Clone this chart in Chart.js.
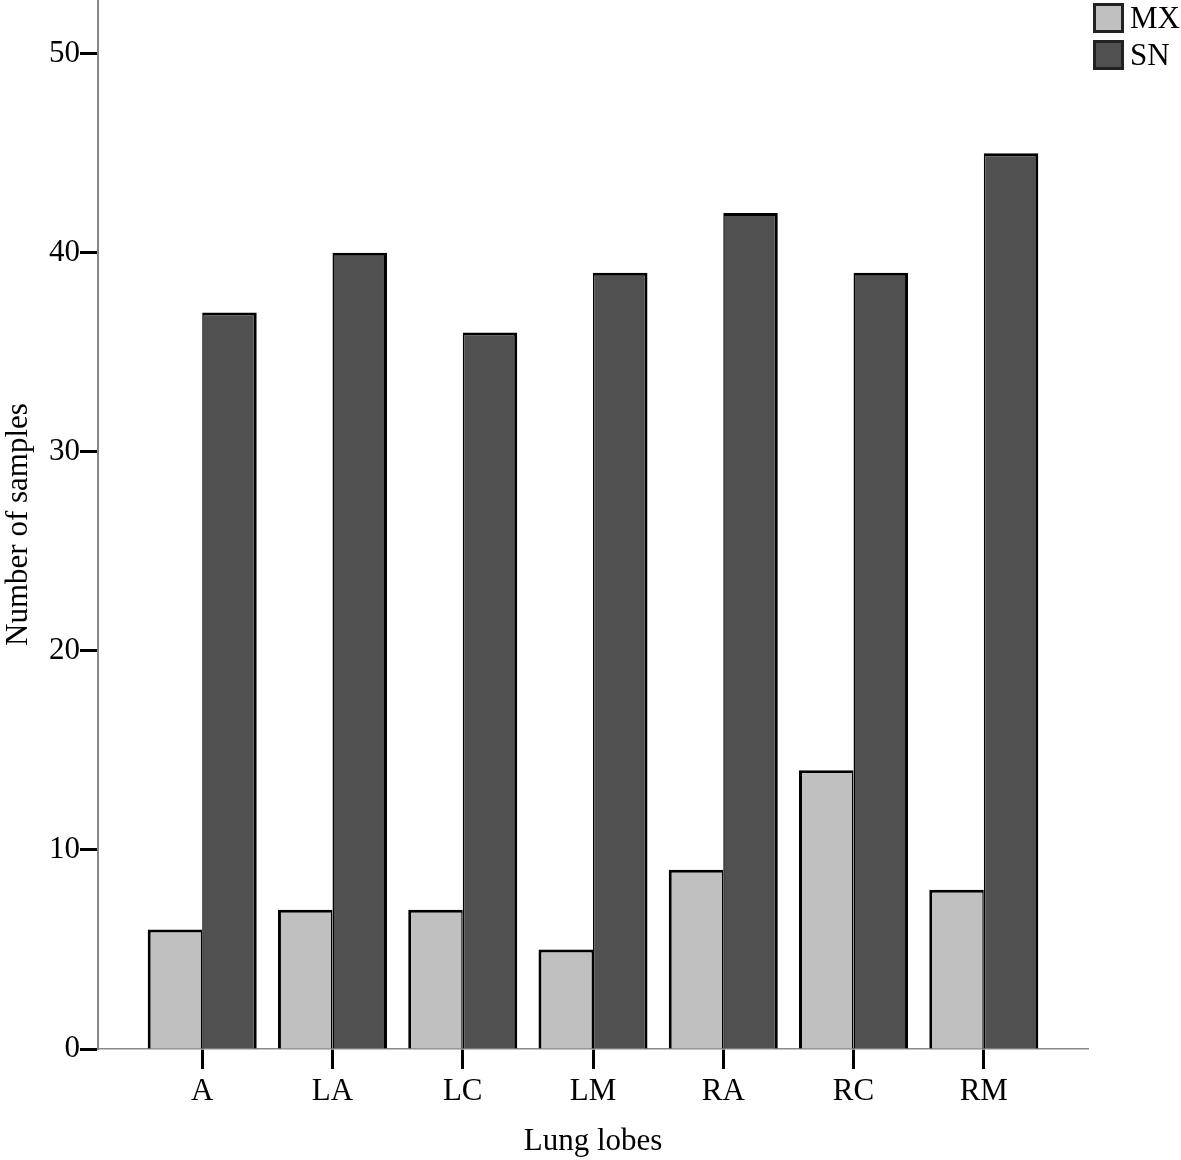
<!DOCTYPE html>
<html>
<head>
<meta charset="utf-8">
<script src="https://cdn.jsdelivr.net/npm/chart.js@4/dist/chart.umd.min.js"></script>
<style>
  html, body { margin: 0; padding: 0; background: #fff; }
  #wrap { position: relative; width: 1181px; height: 1160px; }
  #legend { position: absolute; left: 1093px; top: 3px; font-family: "Liberation Serif", "Times New Roman", serif; font-size: 31px; color: #000; }
  .item { display: flex; align-items: center; height: 30px; margin-bottom: 7px; line-height: 30px; }
  .box { width: 31px; height: 30px; box-sizing: border-box; border: 3px solid #222; margin-right: 6px; flex: none; }
</style>
</head>
<body>
<div id="wrap">
  <canvas id="c" width="1181" height="1160"></canvas>
  <div id="legend"></div>
</div>
<script>
const categories = ["A", "LA", "LC", "LM", "RA", "RC", "RM"];
const seriesNames = ["MX", "SN"];
const mxValues = [6, 7, 7, 5, 9, 14, 8];
const snValues = [37, 40, 36, 39, 42, 39, 45];
const yTicks = [0, 10, 20, 30, 40, 50];
const seriesColors = ["#c0c0c0", "#505050"];

const FONT = "'Liberation Serif', 'Times New Roman', serif";

const borderSets = [
  { top: 3, left: 3, right: 1.5, bottom: 0 },
  { top: 3, left: 1.5, right: 3, bottom: 0 }
];

const datasets = [mxValues, snValues].map((vals, k) => ({
  label: seriesNames[k],
  data: vals.map((v, i) => ({ x: i, y: v })),
  backgroundColor: seriesColors[k],
  borderColor: "#000",
  borderWidth: borderSets[k],
  borderSkipped: false,
  categoryPercentage: 0.837,
  barPercentage: 1.0
}));

const legend = document.getElementById("legend");
seriesNames.forEach((n, k) => {
  const it = document.createElement("div");
  it.className = "item";
  const b = document.createElement("div");
  b.className = "box";
  b.style.background = seriesColors[k];
  const t = document.createElement("span");
  t.textContent = n;
  it.appendChild(b); it.appendChild(t);
  legend.appendChild(it);
});

new Chart(document.getElementById("c"), {
  type: "bar",
  data: { datasets },
  options: {
    responsive: false,
    animation: false,
    events: [],
    layout: { padding: { left: 0, right: 93, top: 0, bottom: 0 } },
    plugins: { legend: { display: false }, tooltip: { enabled: false } },
    scales: {
      x: {
        type: "linear",
        min: -0.8,
        max: 6.8,
        offset: false,
        afterBuildTicks: (s) => { s.ticks = categories.map((_, i) => ({ value: i })); },
        afterFit: (s) => { s.height = 111; s.paddingLeft = 0; s.paddingRight = 0; },
        ticks: {
          callback: (v) => categories[v] ?? "",
          color: "#000",
          font: { family: FONT, size: 31 },
          padding: 4,
          maxRotation: 0,
          autoSkip: false
        },
        grid: { offset: false, drawOnChartArea: false, drawTicks: true, tickLength: 20, tickColor: "#000", tickWidth: 3 },
        border: { color: "#888", width: 1.5 },
        title: { display: true, text: "Lung lobes", color: "#000", font: { family: FONT, size: 31 }, padding: { top: 16, bottom: 0 } }
      },
      y: {
        min: 0,
        max: 52.7,
        afterBuildTicks: (s) => { s.ticks = yTicks.map(v => ({ value: v })); },
        afterFit: (s) => { s.width = 98; s.paddingTop = 0; s.paddingBottom = 0; },
        ticks: { color: "#000", font: { family: FONT, size: 31 }, padding: 0 },
        grid: { drawOnChartArea: false, drawTicks: true, tickLength: 18, tickColor: "#000", tickWidth: 3 },
        border: { color: "#888", width: 2 },
        title: { display: true, text: "Number of samples", color: "#000", font: { family: FONT, size: 31 }, padding: { top: 0, bottom: 0 } }
      }
    }
  }
});
</script>
</body>
</html>
